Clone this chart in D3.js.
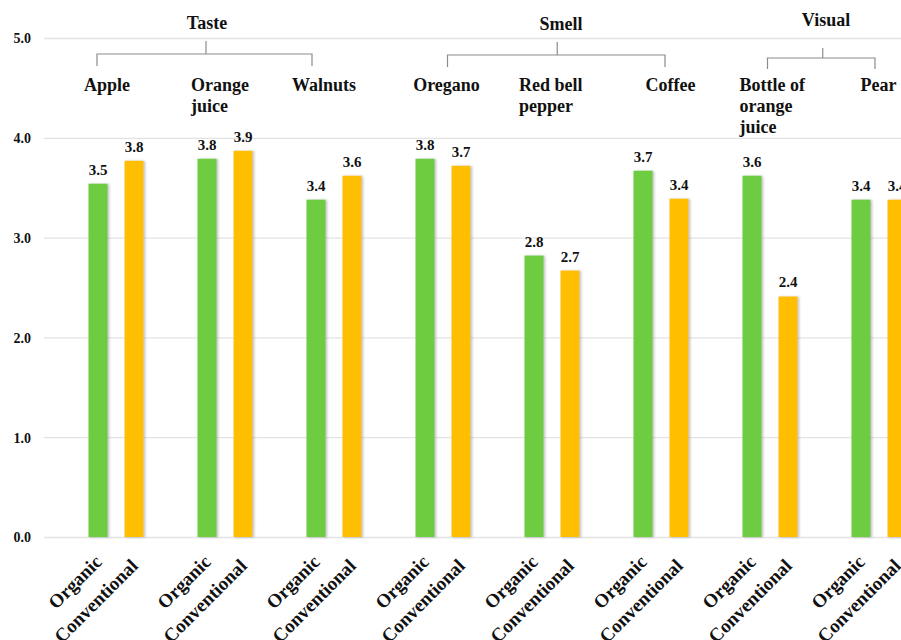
<!DOCTYPE html>
<html>
<head>
<meta charset="utf-8">
<script src="https://cdn.jsdelivr.net/npm/d3@7/dist/d3.min.js"></script>
<style>
  html, body { margin: 0; padding: 0; background: #fff; overflow: hidden; }
  svg { display: block; }
  text { font-family: "Liberation Serif", "Times New Roman", serif; font-weight: bold; fill: #111; }
</style>
</head>
<body>
<svg id="chart" width="901" height="640"></svg>
<script>
// Products rated, grouped by the sense used for evaluation
const categories = ["Apple", "Orange juice", "Walnuts", "Oregano", "Red bell pepper", "Coffee", "Bottle of orange juice", "Pear"];
const categoryLines = [["Apple"], ["Orange", "juice"], ["Walnuts"], ["Oregano"], ["Red bell", "pepper"], ["Coffee"], ["Bottle of", "orange", "juice"], ["Pear"]];
const series = ["Organic", "Conventional"];
const organic = [3.54, 3.79, 3.38, 3.79, 2.82, 3.67, 3.62, 3.38];
const conventional = [3.77, 3.87, 3.62, 3.72, 2.67, 3.39, 2.41, 3.38];
const yTicks = [0, 1, 2, 3, 4, 5];
const senseGroups = [
  { name: "Taste", first: 0, last: 2 },
  { name: "Smell", first: 3, last: 5 },
  { name: "Visual", first: 6, last: 7 }
];

const colors = { Organic: "#6dcc3f", Conventional: "#ffbf00" };

// Layout tweaks for the annotation brackets and the category captions
const bracketLayout = [
  { dl: -19, dr: -22, mid: -19, top: 41, bar: 54, foot: 66, labelX: 207, labelY: 29 },
  { dl: 4.5, dr: 4, mid: 5.25, top: 42, bar: 55, foot: 67, labelX: 561, labelY: 30 },
  { dl: -2.5, dr: -4, mid: -1.75, top: 48, bar: 58, foot: 69, labelX: 826, labelY: 26 }
];
const captionShift = [{ a: "middle", dx: -9 }, { a: "start", dx: -34 }, { a: "middle", dx: -10 }, { a: "middle", dx: 3.5 },
                      { a: "start", dx: -33 }, { a: "middle", dx: 9.5 }, { a: "start", dx: -30.5 }, { a: "middle", dx: -0.5 }];

const svg = d3.select("#chart");
const W = 901;

const y = d3.scaleLinear().domain([0, 5]).range([537, 38]);
const x0 = d3.scaleBand().domain(categories).range([61.5, 61.5 + 109 * categories.length]).padding(0);
const x1 = d3.scaleBand().domain(series).range([27, 82]).paddingInner(17 / 36).paddingOuter(0);
const center = c => x0(c) + x0.bandwidth() / 2;

const defs = svg.append("defs");
const f = defs.append("filter").attr("id", "shadow").attr("x", "-30%").attr("y", "-5%").attr("width", "160%").attr("height", "110%");
f.append("feDropShadow").attr("dx", 1.6).attr("dy", 0.4).attr("stdDeviation", 0.9)
  .attr("flood-color", "#8a8a8a").attr("flood-opacity", 0.55);

// Horizontal gridlines and y-axis labels
const yAxis = d3.axisLeft(y).tickValues(yTicks).tickFormat(d3.format(".1f")).tickSize(-(W - 44)).tickPadding(13);
const gy = svg.append("g").attr("transform", "translate(44,0)").call(yAxis);
gy.select(".domain").remove();
gy.selectAll(".tick line").attr("stroke", "#e3e3e3").attr("stroke-width", 1.3);
gy.selectAll(".tick text").style("font-size", "14px").attr("fill", "#111").attr("dy", "0.35em")
  .style("font-family", "'Liberation Serif', serif").style("font-weight", "bold");

// Bars
const rows = categories.map((c, i) => ({ c, i, vals: [
  { s: "Organic", v: organic[i] }, { s: "Conventional", v: conventional[i] }] }));

const groups = svg.append("g").selectAll("g").data(rows).join("g")
  .attr("transform", d => `translate(${x0(d.c)},0)`);

groups.selectAll("rect").data(d => d.vals).join("rect")
  .attr("x", d => x1(d.s))
  .attr("width", x1.bandwidth())
  .attr("y", d => y(d.v))
  .attr("height", d => y(0) - y(d.v))
  .attr("fill", d => colors[d.s])
  .attr("filter", "url(#shadow)");

// Value labels above bars
groups.selectAll("text.val").data(d => d.vals).join("text")
  .attr("class", "val")
  .attr("x", d => x1(d.s) + x1.bandwidth() / 2)
  .attr("y", d => y(d.v) - 9)
  .attr("text-anchor", "middle")
  .style("font-size", "15px")
  .text(d => d3.format(".1f")(d.v));

// Rotated series labels under each bar
const yBase = y(0);
groups.selectAll("text.series").data(d => d.vals).join("text")
  .attr("class", "series")
  .attr("text-anchor", "end")
  .attr("transform", d => `translate(${x1(d.s) + x1.bandwidth() / 2 + 5},${yBase + (d.s === "Organic" ? 26 : 30)}) rotate(-45)`)
  .style("font-size", "19px")
  .text(d => d.s);

// Category captions
const caps = svg.append("g").selectAll("text").data(categories).join("text")
  .attr("text-anchor", (c, i) => captionShift[i].a)
  .attr("transform", (c, i) => `translate(${center(c) + captionShift[i].dx},91)`)
  .style("font-size", "18px");
caps.selectAll("tspan").data((c, i) => categoryLines[i]).join("tspan")
  .attr("x", 0).attr("y", (d, j) => j * 21).text(d => d);

// Sense brackets and titles
senseGroups.forEach((g, k) => {
  const L = bracketLayout[k];
  const xl = center(categories[g.first]) + L.dl;
  const xr = center(categories[g.last]) + L.dr;
  const xm = (center(categories[g.first]) + center(categories[g.last])) / 2 + L.mid;
  const b = svg.append("g").attr("fill", "none").attr("stroke", "#8c8c8c").attr("stroke-width", 1.2);
  b.append("path").attr("d", `M${xl},${L.foot}V${L.bar}H${xr}V${L.foot}`);
  b.append("path").attr("d", `M${xm},${L.top}V${L.bar}`);
  svg.append("text").attr("x", L.labelX).attr("y", L.labelY).attr("text-anchor", "middle")
    .style("font-size", "18px").text(g.name);
});
</script>
</body>
</html>
